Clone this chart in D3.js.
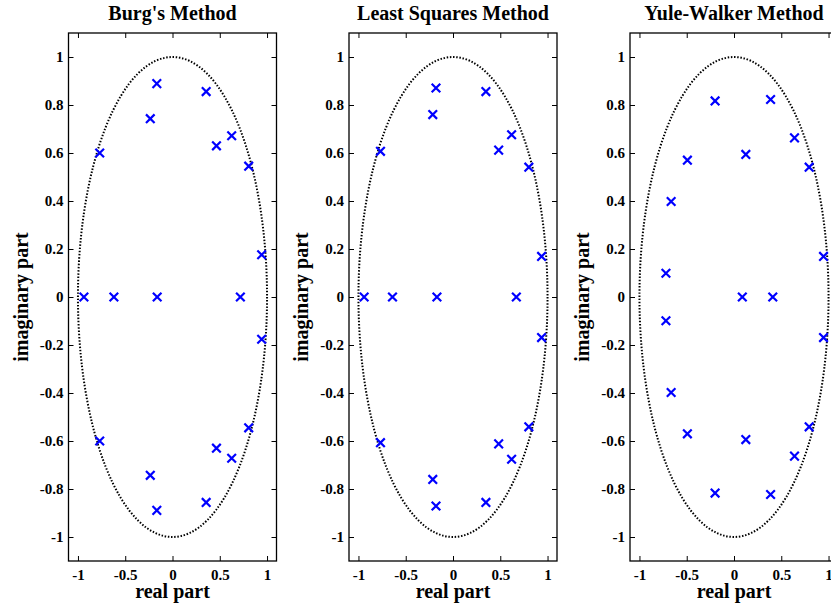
<!DOCTYPE html>
<html>
<head>
<meta charset="utf-8">
<script src="https://cdn.jsdelivr.net/npm/d3@7"></script>
<style>
  body { margin: 0; background: #fff; }
  svg { display: block; }
</style>
</head>
<body>
<svg id="chart" width="831" height="609"></svg>
<script>
// pole locations
var titles = ["Burg's Method", "Least Squares Method", "Yule-Walker Method"];

var burgRe = [-0.77, -0.235, -0.166, 0.356, 0.465, 0.626, 0.806, 0.943,
              -0.77, -0.235, -0.166, 0.356, 0.465, 0.626, 0.806, 0.943,
              -0.937, -0.62, -0.162, 0.718];
var burgIm = [0.60, 0.743, 0.889, 0.856, 0.630, 0.672, 0.545, 0.176,
              -0.60, -0.743, -0.889, -0.856, -0.630, -0.672, -0.545, -0.176,
              0, 0, 0, 0];

var lsRe = [-0.767, -0.214, -0.18, 0.348, 0.483, 0.62, 0.802, 0.937,
            -0.767, -0.214, -0.18, 0.348, 0.483, 0.62, 0.802, 0.937,
            -0.94, -0.64, -0.17, 0.67];
var lsIm = [0.607, 0.760, 0.871, 0.856, 0.612, 0.676, 0.541, 0.169,
            -0.607, -0.760, -0.871, -0.856, -0.612, -0.676, -0.541, -0.169,
            0, 0, 0, 0];

var ywRe = [-0.20, 0.387, -0.493, 0.125, 0.64, 0.795, -0.665, -0.72, 0.947,
            -0.20, 0.387, -0.493, 0.125, 0.64, 0.795, -0.665, -0.72, 0.947,
            0.088, 0.41];
var ywIm = [0.817, 0.823, 0.570, 0.594, 0.663, 0.541, 0.398, 0.099, 0.169,
            -0.817, -0.823, -0.570, -0.594, -0.663, -0.541, -0.398, -0.099, -0.169,
            0, 0];

var xTicks = [-1, -0.5, 0, 0.5, 1];
var yTicks = [-1, -0.8, -0.6, -0.4, -0.2, 0, 0.2, 0.4, 0.6, 0.8, 1];

var panels = [
  {title: titles[0], re: burgRe, im: burgIm},
  {title: titles[1], re: lsRe, im: lsIm},
  {title: titles[2], re: ywRe, im: ywIm}
];

var svg = d3.select("#chart"),
    font = "'Liberation Serif', 'Times New Roman', serif",
    lefts = [68.5, 349, 630],
    plotTop = 33,
    width = 208,
    height = 528;

var x = d3.scaleLinear().domain([-1.1, 1.1]).range([0, width]),
    y = d3.scaleLinear().domain([-1.1, 1.1]).range([height, 0]);

panels.forEach(function(p, i) {
  var g = svg.append("g")
    .attr("transform", "translate(" + lefts[i] + "," + plotTop + ")");

  // unit circle (looks like an ellipse because of the aspect)
  g.append("ellipse")
    .attr("cx", x(0)).attr("cy", y(0))
    .attr("rx", x(1) - x(0)).attr("ry", y(0) - y(1))
    .attr("fill", "none")
    .attr("stroke", "#000")
    .attr("stroke-width", 2)
    .attr("stroke-dasharray", "1.5,1.7");

  // axes, ticks pointing inward on all four sides
  var axBottom = g.append("g")
    .attr("transform", "translate(0," + height + ")")
    .call(d3.axisBottom(x).tickValues(xTicks).tickSize(-5).tickPadding(8)
      .tickFormat(function(d) { return String(d); }));
  var axTop = g.append("g")
    .call(d3.axisTop(x).tickValues(xTicks).tickSize(-5).tickFormat(""));
  var axLeft = g.append("g")
    .call(d3.axisLeft(y).tickValues(yTicks).tickSize(-5).tickPadding(5)
      .tickFormat(function(d) { return String(d); }));
  var axRight = g.append("g")
    .attr("transform", "translate(" + width + ",0)")
    .call(d3.axisRight(y).tickValues(yTicks).tickSize(-5).tickFormat(""));

  [axBottom, axTop, axLeft, axRight].forEach(function(a) {
    a.select(".domain").remove();
    a.selectAll("line").attr("stroke", "#000").attr("stroke-width", 1);
    a.selectAll("text")
      .attr("fill", "#000")
      .style("font-family", font)
      .style("font-weight", "bold")
      .style("font-size", "15px");
  });

  g.append("rect")
    .attr("width", width).attr("height", height)
    .attr("fill", "none")
    .attr("stroke", "#000")
    .attr("stroke-width", 1.3);

  // poles as x markers
  var pts = p.re.map(function(r, k) { return [r, p.im[k]]; });
  g.selectAll(".pole")
    .data(pts)
    .enter().append("path")
    .attr("class", "pole")
    .attr("transform", function(d) { return "translate(" + x(d[0]) + "," + y(d[1]) + ")"; })
    .attr("d", "M-4.3,-4.3L4.3,4.3M-4.3,4.3L4.3,-4.3")
    .attr("stroke", "#0000ff")
    .attr("stroke-width", 2.2)
    .attr("fill", "none");

  g.append("text")
    .attr("x", width / 2).attr("y", 20 - plotTop)
    .attr("text-anchor", "middle")
    .style("font-family", font).style("font-weight", "bold").style("font-size", "20px")
    .text(p.title);

  g.append("text")
    .attr("x", width / 2).attr("y", 598 - plotTop)
    .attr("text-anchor", "middle")
    .style("font-family", font).style("font-weight", "bold").style("font-size", "20px")
    .text("real part");

  g.append("text")
    .attr("transform", "translate(-41," + (height / 2) + ") rotate(-90)")
    .attr("text-anchor", "middle")
    .style("font-family", font).style("font-weight", "bold").style("font-size", "20px")
    .text("imaginary part");
});
</script>
</body>
</html>
